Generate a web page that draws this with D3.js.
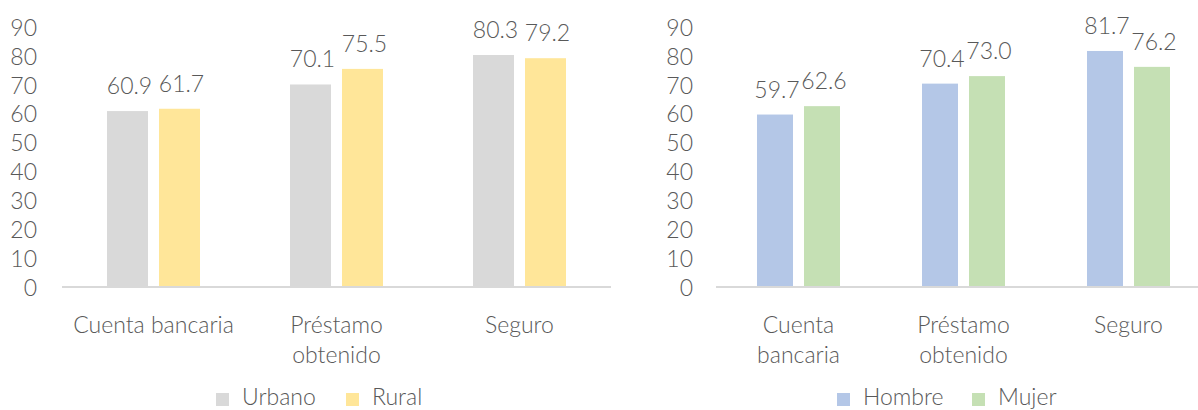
<!DOCTYPE html>
<html>
<head>
<meta charset="utf-8">
<script src="https://cdn.jsdelivr.net/npm/d3@7/dist/d3.min.js"></script>
<style>
  html, body { margin: 0; padding: 0; background: #fff; }
  svg { display: block; font-family: Lato, "Open Sans", sans-serif; font-weight: 300; }
</style>
</head>
<body>
<svg id="chart" width="1198" height="410"></svg>
<script>
// Categories and tick values shared by both panels
const categoriesLeft = [["Cuenta bancaria"], ["Préstamo", "obtenido"], ["Seguro"]];
const categoriesRight = [["Cuenta", "bancaria"], ["Préstamo", "obtenido"], ["Seguro"]];
const yTicks = [0, 10, 20, 30, 40, 50, 60, 70, 80, 90];

// Area of residence
const areaSeries = ["Urbano", "Rural"];
const urbanoValues = [60.9, 70.1, 80.3];
const ruralValues = [61.7, 75.5, 79.2];

// Sex
const sexSeries = ["Hombre", "Mujer"];
const hombreValues = [59.7, 70.4, 81.7];
const mujerValues = [62.6, 73.0, 76.2];

const svg = d3.select("#chart");
const textColor = "#595959";
const fontSize = 23;

function drawPanel(opts) {
  const g = svg.append("g");
  const keys = opts.categories.map(c => c.join(" "));
  const x = d3.scaleBand().domain(keys).range([opts.x0, opts.x1]);
  const y = d3.scaleLinear().domain([0, 90]).range([287, 27]);

  // y axis labels only, no line or ticks
  const yAxis = g.append("g")
    .attr("transform", `translate(${opts.x0},0)`)
    .call(d3.axisLeft(y).tickValues(yTicks).tickSize(0).tickPadding(opts.tickPad).tickFormat(d3.format("d")));
  yAxis.select(".domain").remove();
  yAxis.selectAll("text")
    .attr("fill", textColor)
    .attr("font-size", fontSize)
    .attr("font-family", "Lato, 'Open Sans', sans-serif")
    .attr("font-weight", 300)
    .attr("dy", "0.36em");

  // bars, two per category
  const groupW = 2 * opts.barW + opts.gap;
  const seriesData = opts.series.map((s, i) => ({ name: s, values: opts.values[i], color: opts.colors[i] }));

  seriesData.forEach((s, si) => {
    const bx = k => x(k) + (x.bandwidth() - groupW) / 2 + si * (opts.barW + opts.gap);
    g.selectAll(null).data(s.values).enter().append("rect")
      .attr("x", (d, i) => bx(keys[i]))
      .attr("y", d => y(d))
      .attr("width", opts.barW)
      .attr("height", d => y(0) - y(d))
      .attr("fill", s.color);
    g.selectAll(null).data(s.values).enter().append("text")
      .attr("x", (d, i) => bx(keys[i]) + opts.barW / 2 + 2)
      .attr("y", d => y(d) - 17)
      .attr("text-anchor", "middle")
      .attr("fill", textColor)
      .attr("font-size", fontSize)
      .text(d => d.toFixed(1));
  });

  // baseline
  g.append("line")
    .attr("x1", opts.x0).attr("x2", opts.x1)
    .attr("y1", y(0)).attr("y2", y(0))
    .attr("stroke", "#d9d9d9").attr("stroke-width", 2);

  // category labels
  opts.categories.forEach((lines, i) => {
    const cx = x(keys[i]) + x.bandwidth() / 2;
    const t = g.append("text")
      .attr("x", cx)
      .attr("y", 333)
      .attr("text-anchor", "middle")
      .attr("fill", textColor)
      .attr("font-size", fontSize);
    lines.forEach((ln, j) => {
      t.append("tspan").attr("x", cx).attr("dy", j === 0 ? 0 : 30).text(ln);
    });
  });

  // legend
  const lg = g.append("g");
  opts.series.forEach((s, i) => {
    lg.append("rect")
      .attr("x", opts.legendX[i]).attr("y", 393)
      .attr("width", 13).attr("height", 13)
      .attr("fill", opts.colors[i]);
    lg.append("text")
      .attr("x", opts.legendX[i] + 26).attr("y", 405)
      .attr("fill", textColor)
      .attr("font-size", fontSize)
      .text(s);
  });
}

drawPanel({
  categories: categoriesLeft,
  series: areaSeries,
  values: [urbanoValues, ruralValues],
  colors: ["#d9d9d9", "#ffe699"],
  x0: 62, x1: 611,
  barW: 41, gap: 11,
  tickPad: 25,
  legendX: [216, 346]
});

drawPanel({
  categories: categoriesRight,
  series: sexSeries,
  values: [hombreValues, mujerValues],
  colors: ["#b4c7e7", "#c5e0b4"],
  x0: 716, x1: 1211,
  barW: 36, gap: 11,
  tickPad: 23,
  legendX: [837, 972]
});
</script>
</body>
</html>
